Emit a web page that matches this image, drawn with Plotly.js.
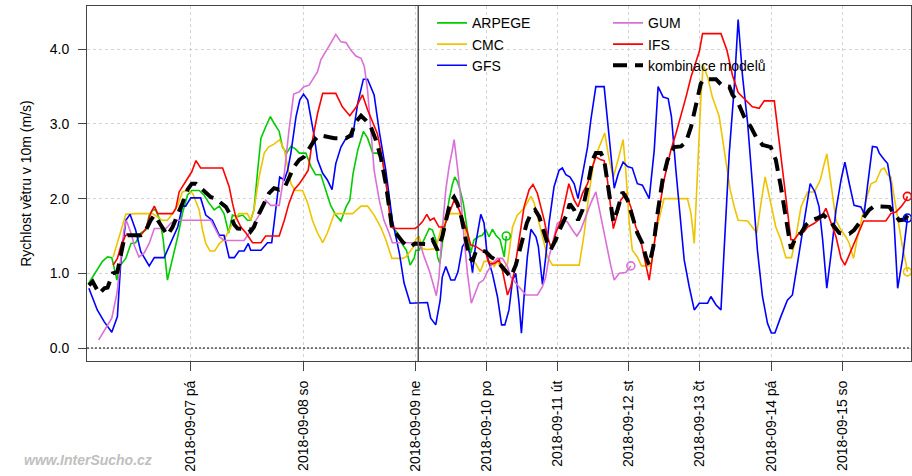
<!DOCTYPE html>
<html><head><meta charset="utf-8">
<script src="https://cdn.plot.ly/plotly-3.0.1.min.js"></script>
<style>html,body{margin:0;padding:0;background:#fff}#chart{width:912px;height:476px}</style>
</head><body><div id="chart"></div>
<script>
// hours relative to 2018-09-09 00:00, wind speed (m/s)
const tickHours = [-48,-24,0,24,48,72,96,120,144];
const tickLabels = ["2018-09-07 pá","2018-09-08 so","2018-09-09 ne","2018-09-10 po","2018-09-11 út","2018-09-12 st","2018-09-13 čt","2018-09-14 pá","2018-09-15 so"];
const yTicks = [0,1,2,3,4];
const nowHour = 1;

const arpege = [[-69.8,0.87],[-68.3,1.02],[-66.9,1.16],[-65.8,1.22],[-64.9,1.21],[-63.8,0.91],[-63.3,1.09],[-61.9,1.20],[-60.8,1.40],[-59.8,1.41],[-58.7,1.54],[-57.6,1.58],[-56.9,1.78],[-56.2,1.85],[-55.5,1.85],[-54.6,1.71],[-53.9,1.45],[-53.0,0.91],[-51.9,1.18],[-50.8,1.49],[-49.8,1.80],[-48.7,2.05],[-47.8,2.11],[-46.2,2.11],[-45.2,2.05],[-44.1,1.94],[-43.0,1.85],[-41.9,1.90],[-40.9,1.80],[-39.9,1.54],[-39.1,1.78],[-38.0,1.76],[-36.9,1.78],[-35.9,1.71],[-35.2,1.71],[-34.5,1.85],[-33.7,2.38],[-33.0,2.81],[-32.0,2.96],[-31.0,3.10],[-30.2,3.01],[-29.1,2.90],[-28.4,2.69],[-27.5,2.61],[-26.6,2.70],[-25.7,2.67],[-24.8,2.61],[-23.4,2.61],[-22.3,2.43],[-21.3,2.32],[-20.2,2.32],[-19.1,2.12],[-18.1,1.91],[-17.0,1.78],[-15.9,1.70],[-14.8,1.89],[-14.0,1.98],[-13.3,2.34],[-12.3,2.65],[-11.1,2.90],[-10.2,2.81],[-9.1,2.61],[-8.1,2.61],[-7.0,2.52],[-5.9,2.03],[-4.9,1.62],[-3.8,1.54],[-2.7,1.38],[-1.9,1.31],[-1.1,1.11],[-0.2,1.21],[0.2,1.31],[1.3,1.31],[3.0,1.45],[4.7,1.60],[5.8,1.58],[6.9,1.45],[7.5,1.22],[8.3,1.13],[9.1,1.40],[10.3,1.71],[11.4,1.98],[12.5,2.19],[13.3,2.29],[14.2,2.23],[15.1,2.12],[16.2,1.94],[17.0,1.71],[17.9,1.45],[18.7,1.27],[19.8,1.45],[21.2,1.49],[22.6,1.51],[23.8,1.58],[24.9,1.49],[26.0,1.59],[27.2,1.51],[28.6,1.45],[30.0,1.22],[30.7,1.50]];

const cmc = [[-64.6,1.22],[-63.7,1.40],[-62.6,1.65],[-61.9,1.79],[-59.8,1.80],[-56.2,1.80],[-54.1,1.71],[-53.0,1.71],[-51.9,1.80],[-50.8,1.91],[-49.8,2.09],[-48.7,2.11],[-47.6,2.07],[-46.2,1.85],[-45.5,1.58],[-44.8,1.40],[-43.9,1.30],[-42.9,1.30],[-41.9,1.40],[-40.9,1.45],[-39.8,1.58],[-38.7,1.71],[-37.7,1.80],[-35.9,1.80],[-35.2,1.71],[-34.5,1.85],[-33.4,2.29],[-32.3,2.61],[-31.4,2.69],[-30.2,2.73],[-29.0,2.79],[-28.0,2.65],[-27.3,2.43],[-26.6,2.20],[-25.7,2.11],[-24.1,2.11],[-23.0,1.94],[-22.0,1.71],[-20.9,1.54],[-19.8,1.41],[-18.8,1.54],[-17.3,1.80],[-13.4,1.80],[-11.6,1.90],[-10.2,1.90],[-8.8,1.78],[-7.4,1.62],[-6.3,1.45],[-5.0,1.20],[-2.7,1.20],[-2.0,1.22],[-0.9,1.31],[-0.1,1.38],[0.2,1.46],[1.3,1.49],[2.4,1.33],[4.1,1.32],[6.9,1.33],[8.6,1.58],[10.3,1.78],[12.0,1.80],[14.8,1.80],[16.5,1.67],[17.6,1.36],[18.7,1.20],[20.4,1.13],[21.9,1.02],[23.2,1.16],[25.5,1.16],[26.6,1.09],[27.7,1.16],[29.4,1.04],[31.1,1.13],[32.8,1.62],[34.4,1.78],[36.7,1.87],[39.0,2.03],[40.1,1.94],[41.2,1.76],[42.3,1.58],[43.5,1.40],[44.6,1.22],[46.3,1.11],[55.3,1.11],[57.0,1.54],[58.6,2.07],[60.3,2.52],[62.0,2.69],[63.9,2.88],[65.4,2.52],[66.8,2.29],[68.4,2.52],[70.1,2.79],[71.0,2.38],[72.1,1.71],[73.2,1.31],[74.9,1.22],[76.3,1.10],[79.5,1.10],[81.1,1.54],[83.9,2.00],[91.8,2.00],[93.0,1.80],[94.1,1.40],[95.2,2.38],[96.3,3.32],[97.1,3.79],[98.6,3.63],[100.2,3.36],[102.5,3.10],[104.2,2.65],[106.2,2.12],[107.6,1.89],[108.9,1.71],[112.1,1.70],[113.7,1.62],[115.2,1.54],[116.6,1.94],[118.0,2.29],[119.9,1.94],[121.6,1.62],[123.3,1.45],[125.0,1.21],[126.9,1.21],[128.4,1.49],[130.1,1.89],[132.3,2.09],[134.6,2.09],[136.6,2.25],[137.7,2.43],[138.8,2.60],[140.2,2.20],[141.9,1.71],[143.6,1.58],[145.2,1.49],[146.4,1.40],[147.8,1.20],[149.2,1.49],[150.9,1.80],[152.0,1.98],[153.7,2.20],[155.4,2.23],[157.1,2.39],[158.2,2.41],[159.3,2.32],[160.4,2.29],[161.5,2.03],[163.2,1.62],[164.3,1.36],[165.5,1.13],[166.0,1.02]];

const gfs = [[-69.8,0.80],[-68.0,0.51],[-66.5,0.35],[-64.9,0.21],[-63.7,0.42],[-63.0,1.13],[-61.9,1.71],[-61.0,1.79],[-59.8,1.58],[-58.7,1.29],[-56.9,1.10],[-55.8,1.21],[-53.7,1.21],[-52.3,1.40],[-50.8,1.62],[-49.8,1.90],[-49.1,1.90],[-48.0,2.01],[-45.9,2.01],[-44.8,1.78],[-43.4,1.71],[-41.9,1.51],[-40.9,1.51],[-39.8,1.21],[-38.7,1.21],[-37.7,1.30],[-36.6,1.30],[-35.7,1.40],[-35.2,1.31],[-33.0,1.31],[-31.6,1.41],[-30.7,1.41],[-29.8,1.89],[-29.0,2.29],[-28.0,2.25],[-27.3,2.38],[-26.6,2.61],[-25.5,3.10],[-24.7,3.32],[-23.9,3.40],[-23.0,3.32],[-22.3,3.10],[-21.6,2.83],[-20.9,2.52],[-19.8,2.34],[-18.8,2.25],[-17.8,2.12],[-17.0,2.47],[-15.9,2.69],[-14.8,2.81],[-13.4,2.83],[-12.3,3.28],[-11.1,3.60],[-10.2,3.60],[-8.8,3.39],[-7.7,2.90],[-6.3,2.38],[-4.9,1.71],[-3.4,1.27],[-2.4,0.87],[-1.1,0.60],[4.1,0.61],[5.2,0.40],[6.9,0.31],[8.4,0.64],[9.1,0.95],[10.3,1.09],[12.0,0.91],[13.3,0.91],[14.4,1.02],[15.9,1.36],[17.0,1.42],[18.4,1.27],[19.3,1.01],[20.4,1.40],[22.1,1.79],[23.2,1.67],[24.3,1.22],[26.0,1.00],[27.7,0.69],[29.1,0.31],[30.2,0.31],[31.6,0.51],[32.8,0.91],[33.9,1.00],[35.0,0.60],[35.8,0.20],[36.7,0.69],[37.8,1.22],[39.0,1.59],[40.7,1.49],[41.5,1.36],[42.9,0.85],[44.0,1.22],[45.1,1.67],[46.8,2.16],[48.5,2.38],[49.6,2.41],[50.8,2.32],[52.2,2.29],[53.6,2.20],[54.9,2.00],[56.4,2.34],[58.1,2.69],[59.2,3.05],[60.9,3.50],[63.7,3.50],[65.4,2.83],[67.1,2.14],[68.5,2.34],[70.1,2.49],[71.6,2.43],[73.2,2.41],[74.9,2.20],[76.6,2.18],[78.9,2.00],[80.6,2.65],[81.9,3.50],[83.6,3.36],[85.3,3.34],[86.4,3.10],[87.9,2.38],[89.6,1.67],[90.7,1.18],[92.4,0.82],[94.1,0.51],[95.8,0.60],[98.6,0.60],[99.7,0.69],[101.4,0.58],[103.1,0.51],[104.2,1.27],[105.9,2.61],[107.6,3.50],[108.9,4.40],[110.4,3.63],[112.1,3.01],[113.7,2.20],[115.4,1.31],[117.1,0.69],[118.8,0.33],[120.1,0.20],[121.3,0.20],[123.3,0.42],[125.5,0.64],[127.2,0.71],[128.9,1.13],[130.6,1.58],[132.1,1.94],[133.2,2.20],[134.8,2.09],[136.2,1.89],[137.4,1.45],[138.8,0.80],[140.4,1.31],[141.9,1.85],[143.6,2.25],[144.9,2.49],[146.4,2.20],[148.0,1.91],[150.3,1.89],[151.4,1.80],[152.5,2.16],[154.2,2.70],[155.7,2.69],[156.5,2.61],[158.2,2.52],[159.3,2.47],[160.4,2.20],[161.5,1.67],[162.7,0.80],[164.3,1.18],[166.0,1.74]];

const gum = [[-67.7,0.11],[-66.5,0.24],[-64.9,0.40],[-63.8,0.73],[-63.0,1.18],[-62.3,1.58],[-61.8,1.71],[-60.8,1.54],[-60.0,1.36],[-59.1,1.22],[-58.0,1.27],[-56.9,1.40],[-55.8,1.60],[-53.3,1.60],[-52.3,1.67],[-51.2,1.71],[-43.7,1.71],[-42.7,1.58],[-41.9,1.49],[-40.9,1.44],[-36.6,1.44],[-35.5,1.54],[-34.1,1.71],[-33.0,1.82],[-32.0,1.98],[-30.9,1.91],[-29.1,1.91],[-28.0,2.34],[-27.0,2.92],[-26.0,3.40],[-24.8,3.43],[-23.8,3.50],[-22.7,3.52],[-22.0,3.59],[-20.9,3.70],[-20.2,3.86],[-19.1,3.97],[-18.1,4.08],[-17.0,4.20],[-15.9,4.10],[-14.8,4.09],[-13.8,3.99],[-12.7,3.91],[-11.6,3.88],[-10.9,3.77],[-10.2,3.45],[-9.5,2.92],[-8.8,2.38],[-7.7,1.98],[-6.7,1.71],[-5.6,1.54],[-4.9,1.41],[-0.1,1.41],[0.2,1.40],[1.9,1.36],[3.0,1.22],[4.7,1.04],[5.8,0.89],[7.1,0.70],[8.0,0.95],[9.1,1.58],[10.3,2.12],[11.4,2.43],[12.5,2.65],[13.1,2.79],[14.2,2.43],[15.4,1.98],[16.5,1.45],[17.6,1.00],[18.9,0.60],[20.1,0.73],[21.5,0.87],[23.0,0.91],[24.3,1.02],[26.0,1.13],[27.7,1.20],[29.4,1.20],[31.1,1.09],[32.2,0.95],[33.9,0.87],[35.0,0.82],[37.3,0.71],[41.2,0.71],[42.9,0.82],[44.0,0.95],[45.1,1.22],[46.3,1.40],[47.9,1.67],[49.6,1.71],[51.3,1.69],[53.0,1.58],[54.5,1.50],[55.8,1.58],[57.5,1.76],[59.2,1.94],[60.9,2.09],[62.6,1.76],[64.3,1.40],[66.0,1.09],[67.1,0.91],[68.8,1.00],[71.0,1.01],[72.7,1.10]];

const ifs = [[-64.6,1.11],[-63.7,1.20],[-62.8,1.40],[-61.9,1.51],[-58.7,1.51],[-57.6,1.60],[-56.6,1.80],[-55.8,1.90],[-55.1,1.80],[-51.9,1.80],[-51.2,1.87],[-50.5,2.09],[-49.1,2.23],[-47.8,2.36],[-46.9,2.51],[-45.9,2.41],[-41.2,2.41],[-40.5,2.29],[-39.8,2.16],[-39.1,1.94],[-38.4,1.76],[-37.3,1.62],[-36.2,1.54],[-34.8,1.41],[-33.0,1.41],[-32.0,1.50],[-29.1,1.50],[-28.0,1.71],[-27.0,1.94],[-25.9,2.12],[-24.8,2.20],[-23.8,2.29],[-22.9,2.38],[-22.0,2.78],[-20.9,3.14],[-19.8,3.41],[-17.0,3.41],[-15.6,3.23],[-14.0,3.11],[-12.7,3.22],[-11.3,3.39],[-10.2,3.19],[-9.1,3.01],[-8.1,2.87],[-7.4,2.65],[-6.3,2.25],[-5.2,1.62],[-4.1,1.60],[-0.1,1.60],[0.7,1.62],[2.4,1.69],[3.9,1.79],[5.0,1.71],[6.3,1.74],[8.0,1.62],[9.7,1.62],[11.4,1.80],[13.1,1.98],[14.8,1.85],[16.2,1.71],[17.6,1.54],[18.7,1.38],[20.4,1.36],[22.1,1.31],[23.8,1.27],[24.9,1.13],[26.6,1.13],[28.3,1.18],[29.4,1.04],[31.1,0.71],[32.2,0.82],[33.3,1.00],[34.4,1.31],[35.6,1.62],[36.7,1.89],[38.4,2.12],[39.7,2.19],[41.2,2.07],[42.3,1.91],[43.5,1.71],[44.6,1.49],[45.9,1.33],[47.4,1.54],[49.1,1.71],[50.4,1.94],[51.8,2.20],[53.6,1.98],[54.9,1.89],[56.4,2.07],[58.1,2.20],[59.8,2.43],[60.9,2.56],[62.6,2.52],[63.7,2.51],[64.8,2.25],[66.0,1.85],[66.8,1.60],[68.2,1.80],[69.3,1.98],[71.0,2.07],[72.7,1.89],[74.4,1.62],[75.8,1.49],[77.2,1.22],[78.9,0.91],[80.0,1.22],[81.7,1.71],[83.9,2.25],[86.2,2.65],[87.9,2.87],[89.6,3.10],[91.3,3.36],[93.0,3.63],[94.6,3.81],[95.8,3.97],[96.9,4.21],[103.1,4.21],[105.1,3.99],[107.0,3.65],[108.9,3.42],[111.5,3.32],[113.7,3.23],[116.0,3.21],[117.7,3.31],[121.1,3.31],[122.2,2.96],[123.9,2.34],[125.5,1.85],[126.7,1.45],[127.8,1.45],[129.5,1.54],[131.2,1.56],[132.3,1.62],[134.6,1.67],[136.8,1.74],[138.5,1.87],[140.2,1.67],[141.9,1.49],[143.6,1.20],[144.9,1.11],[146.4,1.25],[148.0,1.40],[149.7,1.58],[151.2,1.70],[158.7,1.70],[160.4,1.80],[162.1,1.82],[163.8,1.89],[165.5,1.98],[166.0,2.03]];

const kombinace = [[-69.8,0.84],[-69.0,0.89],[-67.6,0.73],[-66.5,0.80],[-65.8,0.81],[-64.7,1.00],[-63.7,1.02],[-62.8,1.27],[-62.3,1.45],[-61.5,1.51],[-58.7,1.51],[-57.6,1.58],[-56.6,1.71],[-55.8,1.78],[-55.1,1.71],[-54.1,1.60],[-53.0,1.51],[-51.9,1.62],[-50.8,1.78],[-49.8,1.94],[-48.7,2.12],[-47.8,2.20],[-46.9,2.20],[-45.9,2.14],[-44.8,2.09],[-43.7,2.02],[-42.7,2.00],[-41.6,1.94],[-40.5,1.89],[-39.7,1.80],[-38.7,1.65],[-38.0,1.60],[-36.6,1.60],[-35.5,1.59],[-35.2,1.56],[-34.5,1.62],[-33.4,1.80],[-32.3,1.94],[-31.3,2.07],[-30.2,2.14],[-29.1,2.12],[-28.0,2.14],[-27.0,2.29],[-25.9,2.43],[-24.8,2.52],[-23.8,2.56],[-22.7,2.67],[-21.6,2.78],[-20.6,2.85],[-19.1,2.83],[-17.3,2.81],[-14.8,2.81],[-13.8,2.85],[-12.7,3.03],[-11.6,3.11],[-10.6,3.05],[-9.5,2.96],[-8.4,2.78],[-7.4,2.56],[-6.3,2.20],[-5.6,1.89],[-4.9,1.58],[-3.8,1.51],[-2.7,1.42],[-1.6,1.36],[-0.9,1.36],[-0.1,1.40],[4.1,1.39],[5.8,1.45],[7.5,1.31],[9.1,1.49],[10.3,1.71],[11.7,1.94],[13.1,2.02],[14.2,1.94],[15.6,1.74],[17.0,1.49],[18.2,1.22],[19.3,1.16],[20.4,1.29],[22.1,1.31],[23.8,1.29],[25.5,1.22],[27.2,1.18],[28.8,1.11],[30.5,1.02],[32.2,0.95],[33.9,1.11],[35.0,1.27],[36.1,1.45],[37.6,1.67],[39.0,1.80],[40.4,1.85],[41.8,1.76],[43.2,1.58],[44.6,1.40],[45.7,1.32],[47.4,1.45],[49.1,1.62],[50.8,1.76],[52.1,1.93],[53.6,1.85],[54.9,1.71],[56.4,1.85],[58.1,2.16],[59.8,2.52],[60.9,2.61],[62.6,2.61],[63.7,2.52],[64.8,2.25],[66.0,1.89],[66.8,1.69],[68.2,1.85],[69.9,2.09],[71.6,1.98],[73.2,1.76],[74.9,1.54],[76.6,1.40],[77.8,1.22],[78.9,1.11],[80.3,1.36],[81.7,1.80],[83.4,2.25],[85.1,2.52],[87.3,2.69],[89.6,2.70],[91.3,2.76],[93.0,2.96],[94.6,3.23],[96.3,3.54],[97.4,3.60],[101.4,3.60],[103.6,3.51],[105.9,3.50],[107.0,3.39],[108.7,3.30],[110.9,3.10],[113.2,2.96],[114.9,2.83],[117.1,2.72],[119.9,2.69],[121.6,2.52],[123.3,2.16],[124.4,1.89],[125.3,1.67],[126.7,1.33],[128.4,1.49],[130.1,1.54],[131.8,1.65],[133.6,1.71],[135.7,1.74],[137.7,1.78],[139.6,1.71],[141.3,1.62],[143.0,1.54],[144.7,1.53],[146.4,1.53],[148.0,1.58],[149.7,1.67],[151.4,1.78],[153.1,1.85],[154.8,1.90],[158.2,1.90],[159.9,1.89],[161.5,1.80],[163.2,1.71],[164.9,1.72],[166.6,1.80]];

// the forecast part of the axis is drawn compressed, as in the original
const FUTURE_SCALE = 0.634;
function toAxis(h){ return h < 0 ? h/24 : h/24*FUTURE_SCALE; }

const series = [
  {name:"ARPEGE", data:arpege, color:"#00CC00", legend:"legend", marker:true},
  {name:"CMC", data:cmc, color:"#EEC400", legend:"legend", marker:true},
  {name:"GFS", data:gfs, color:"#0000FF", legend:"legend", marker:true},
  {name:"GUM", data:gum, color:"#DA70D6", legend:"legend2", marker:true},
  {name:"IFS", data:ifs, color:"#FF0000", legend:"legend2", marker:true},
  {name:"kombinace modelů", data:kombinace, color:"#000000", legend:"legend2", marker:false, dash:"14px,8px", width:4}
];

const traces = [];
series.forEach(s => {
  traces.push({
    type:"scatter", mode:"lines", name:s.name, legend:s.legend,
    x:s.data.map(p=>toAxis(p[0])), y:s.data.map(p=>p[1]),
    line:{color:s.color, width:s.width||1.6, dash:s.dash||"solid"},
    hoverinfo:"skip"
  });
});
series.filter(s=>s.marker).forEach(s => {
  const last = s.data[s.data.length-1];
  traces.push({
    type:"scatter", mode:"markers", showlegend:false,
    x:[toAxis(last[0])], y:[last[1]],
    marker:{symbol:"circle-open", size:8, color:s.color, line:{width:1.6, color:s.color}},
    hoverinfo:"skip"
  });
});

const FONT = "Liberation Sans, Arial, sans-serif";
const layout = {
  width:912, height:476,
  margin:{l:87, r:1, t:6, b:115},
  paper_bgcolor:"#fff", plot_bgcolor:"#fff",
  font:{family:FONT, size:14, color:"#000"},
  showlegend:true,
  xaxis:{
    range:[toAxis(-70.2), toAxis(167.2)],
    tickmode:"array", tickvals:tickHours.map(toAxis), ticktext:tickLabels,
    tickangle:-90, ticks:"outside", ticklen:9, tickcolor:"#444", ticklabelstandoff:4,
    showgrid:true, gridcolor:"#d3d3d3", griddash:"dot", gridwidth:1,
    zeroline:false, showline:true, mirror:true, linecolor:"#444", linewidth:1,
    tickfont:{size:14}
  },
  yaxis:{
    range:[-0.174, 4.58],
    tickmode:"array", tickvals:yTicks, tickformat:".1f",
    ticks:"outside", ticklen:8, tickcolor:"#444", ticklabelstandoff:6,
    showgrid:true, gridcolor:"#d3d3d3", griddash:"dot", gridwidth:1,
    zeroline:false, showline:true, mirror:true, linecolor:"#444", linewidth:1,
    tickfont:{size:14},
    title:{text:"Rychlost větru v 10m (m/s)", font:{size:14}, standoff:14}
  },
  legend:{x:0.4187, xanchor:"left", y:0.9963, yanchor:"top", bgcolor:"rgba(0,0,0,0)", borderwidth:0, font:{size:14}, tracegroupgap:0},
  legend2:{x:0.6323, xanchor:"left", y:0.9963, yanchor:"top", bgcolor:"rgba(0,0,0,0)", borderwidth:0, font:{size:14}, tracegroupgap:0},
  shapes:[
    {type:"line", xref:"paper", x0:0, x1:1, yref:"y", y0:0, y1:0, line:{color:"#000", width:1, dash:"2px,2px"}},
    {type:"line", xref:"x", x0:toAxis(nowHour), x1:toAxis(nowHour), yref:"paper", y0:0, y1:1, line:{color:"#555", width:1.5}}
  ],
  annotations:[
    {text:"www.InterSucho.cz", xref:"paper", yref:"paper", x:-0.079, y:-0.279, xanchor:"left", yanchor:"middle",
     showarrow:false, font:{family:FONT, size:14, color:"#c0c0c0", weight:"bold", style:"italic"}}
  ]
};

Plotly.newPlot("chart", traces, layout, {staticPlot:true, displayModeBar:false});
</script>
</body></html>
